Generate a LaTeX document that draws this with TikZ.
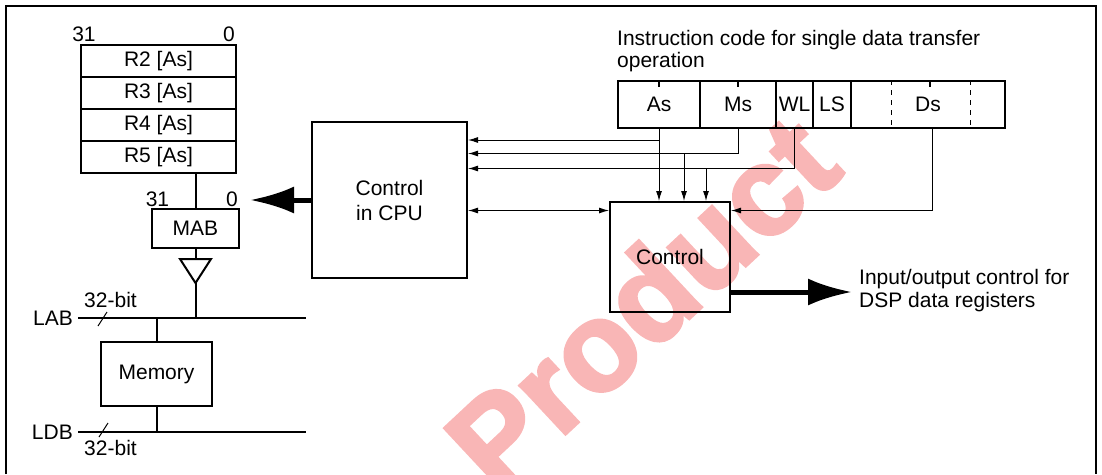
\documentclass[tikz,border=0pt]{standalone}
\usepackage{fontspec}
\setmainfont{Liberation Sans}
\newfontfamily\wmfont[FakeBold=2.5]{Liberation Sans}
\usetikzlibrary{arrows.meta,calc}
\definecolor{wm}{RGB}{249,182,182}
\begin{document}
\begin{tikzpicture}[x=1pt,y=-1pt,
  every node/.style={font=\fontsize{21}{25}\selectfont, inner sep=0pt},
  box/.style={draw, line width=2pt},
  thinline/.style={line width=1pt},
  arr/.style={-{Latex[length=10pt,width=6pt]}, line width=1pt},
  darr/.style={{Latex[length=10pt,width=6pt]}-{Latex[length=10pt,width=6pt]}, line width=1pt},
  bigarr/.style={-{Latex[length=44pt,width=27pt]}, line width=5pt},
  busline/.style={line width=2pt},
  field/.style={draw, line width=2pt, minimum height=47pt}]
\useasboundingbox (0,0) rectangle (1102,474);
\clip (0,0) rectangle (1102,474);
% watermark
\node[text=wm, font=\wmfont\fontsize{126}{126}\selectfont\bfseries, rotate=43] (wmk) at (641,302) {Product};
% frame
\draw[line width=2.5pt] (6,474) -- (6,6) -- (1096,6) -- (1096,474);
% registers
\node[box, minimum width=155pt, minimum height=32pt] (r2) at (158.5,61) {R2 [As]};
\node[box, minimum width=155pt, minimum height=32pt] (r3) at (158.5,93) {R3 [As]};
\node[box, minimum width=155pt, minimum height=32pt] (r4) at (158.5,125) {R4 [As]};
\node[box, minimum width=155pt, minimum height=32pt] (r5) at (158.5,157) {R5 [As]};
\node (r31) at (84,34) {31};
\node (r0) at (229,34) {0};
% MAB
\node[box, minimum width=87pt, minimum height=39pt] (mab) at (195.5,228.5) {MAB};
\node (m31) at (157.5,199) {31};
\node (m0) at (232,199) {0};
\draw[busline] (mab.north) -- (mab.north |- r5.south);
% buffer
\coordinate (bt) at (195.5,259);
\coordinate (ba) at (195.5,283);
\draw[busline] (mab.south) -- (bt);
\draw[busline, line join=miter] (180,259) -- (211,259) -- (ba) -- cycle;
% buses
\coordinate (labL) at (78,318);
\coordinate (labR) at (306,318);
\coordinate (ldbL) at (78,432);
\coordinate (ldbR) at (306,432);
\draw[busline] (labL) -- (labR);
\draw[busline] (ldbL) -- (ldbR);
\draw[busline] (ba) -- (ba |- labL);
\node[anchor=east] (lab) at (73,318) {LAB};
\node[anchor=east] (ldb) at (73,432) {LDB};
\node (lab32) at (110.5,300) {32-bit};
\node (ldb32) at (110.5,448) {32-bit};
\draw[thinline] (98,326) -- (107,312);
\draw[thinline] (99,437) -- (108,423);
% memory
\node[box, minimum width=111pt, minimum height=64pt] (mem) at (156.5,374) {Memory};
\draw[busline] (mem.north) -- (mem.north |- labL);
\draw[busline] (mem.south) -- (mem.south |- ldbL);
% control in CPU
\node[box, minimum width=155pt, minimum height=156pt, align=center,
      font=\fontsize{21}{25}\selectfont] (cpu) at (389.5,200) {Control\\in CPU};
\coordinate (mabtip) at (250,200);
\draw[bigarr] (cpu.west) -- (mabtip);
% instruction code
\node[anchor=west, align=left, font=\fontsize{21}{22.5}\selectfont] (itxt) at (617,51)
  {Instruction code for single data transfer\\operation};
\node[field, minimum width=82pt] (As) at (659,104.5) {As};
\node[field, minimum width=76pt] (Ms) at (738,104.5) {Ms};
\node[field, minimum width=37pt] (WL) at (794.5,104.5) {WL};
\node[field, minimum width=38pt] (LS) at (832,104.5) {LS};
\node[field, minimum width=154pt] (Ds) at (928,104.5) {Ds};
\draw[line width=1.2pt] (As.north) -- ++(0,7);
\draw[line width=1.2pt] (Ms.north) -- ++(0,7);
\draw[line width=1.2pt] ($(Ds.north)+(2,0)$) -- ++(0,7);
\draw[thinline, dash pattern=on 5pt off 5pt] ($(Ds.north west)+(41,0)$) -- ($(Ds.south west)+(41,0)$);
\draw[thinline, dash pattern=on 5pt off 5pt] ($(Ds.north west)+(120,0)$) -- ($(Ds.south west)+(120,0)$);
% control
\node[box, minimum width=120pt, minimum height=110pt] (ctrl) at (670,257) {Control};
% connectors
\coordinate (j1) at ($(As.south)+(0,11)$);
\coordinate (j2) at (684,153.5);
\coordinate (j3) at (706,168.5);
\coordinate (j4) at ($(ctrl.north west)+(0,9.5)$);
\draw[arr] (As.south) -- (As.south |- ctrl.north);
\draw[arr] (j1) -- (j1 -| cpu.east);
\draw[arr] (Ms.south) |- (cpu.east |- j2);
\draw[arr] (j2) -- (j2 |- ctrl.north);
\draw[arr] (WL.south) |- (cpu.east |- j3);
\draw[arr] (j3) -- (j3 |- ctrl.north);
\draw[darr] (cpu.east |- j4) -- (j4);
\draw[arr] ($(Ds.south)+(4,0)$) |- (ctrl.east |- j4);
% output
\coordinate (o1) at ($(ctrl.east)+(0,35)$);
\coordinate (otip) at (852,292);
\draw[bigarr] (o1) -- (otip);
\node[anchor=west, align=left, font=\fontsize{21}{23}\selectfont] (otxt) at (859,290.5)
  {Input/output control for\\DSP data registers};
\end{tikzpicture}
\end{document}
